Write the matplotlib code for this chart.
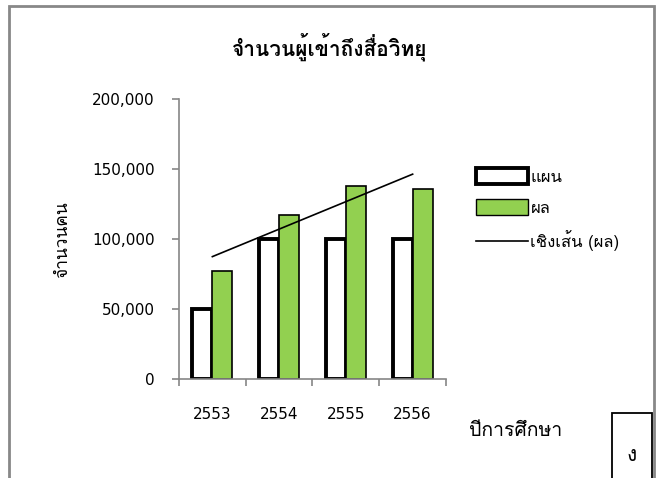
import numpy as np
import matplotlib
matplotlib.use("Agg")
import matplotlib.pyplot as plt
from matplotlib import font_manager
from matplotlib.ft2font import FT2Font
from matplotlib.patches import Rectangle
from matplotlib.lines import Line2D

years = ["2553", "2554", "2555", "2556"]
plan = [50000, 100000, 100000, 100000]
result = [77000, 117500, 138000, 135500]


# find a family that can draw Thai
def has_thai(path):
    try:
        return FT2Font(path).get_char_index(0x0E08) != 0
    except Exception:
        return False


thai = sorted({f.name for f in font_manager.fontManager.ttflist if has_thai(f.fname)})
pick = [n for n in ["Loma", "Garuda", "Umpush", "Tlwg Typist"] if n in thai] + thai
plt.rcParams["font.family"] = pick[:1] + ["DejaVu Sans"]
num = "DejaVu Sans"

fig = plt.figure(figsize=(6.59, 4.78), dpi=100)
ax = fig.add_axes([0.2716, 0.2061, 0.4052, 0.5868])

x = np.arange(len(years))
w = 0.3
ax.bar(x - w / 2, plan, w, color="white", edgecolor="black", linewidth=2.8)
ax.bar(x + w / 2, result, w, color="#92D050", edgecolor="black", linewidth=1.2)

# linear trend of the results
k, b = np.polyfit(x, result, 1)
ax.plot(x, k * x + b, color="black", linewidth=1.2)

ax.set_xlim(-0.5, 3.5)
ax.set_ylim(0, 200000)
ax.set_yticks(range(0, 200001, 50000))
ax.set_yticklabels([f"{v:,}" for v in range(0, 200001, 50000)], fontsize=11, family=num)
ax.set_xticks(x)
ax.set_xticklabels(years, fontsize=11, family=num)
ax.set_xticks(np.arange(-0.5, 4, 1), minor=True)
ax.tick_params(axis="x", which="major", length=0, pad=20)
ax.tick_params(axis="x", which="minor", length=5, color="#868686", width=1.2)
ax.tick_params(axis="y", length=5, color="#868686", width=1.2, pad=12.5)
for s in ["top", "right"]:
    ax.spines[s].set_visible(False)
for s in ["left", "bottom"]:
    ax.spines[s].set_color("#868686")
    ax.spines[s].set_linewidth(1.2)

fig.text(0.501, 0.903, "จำนวนผู้เข้าถึงสื่อวิทยุ", ha="center", va="center",
         fontsize=15, fontweight="bold")
fig.text(0.096, 0.498, "จำนวนคน", ha="center", va="center", rotation=90, fontsize=12.5)
fig.text(0.783, 0.098, "ปีการศึกษา", ha="center", va="center", fontsize=14)

handles = [
    Rectangle((0, 0), 1, 1, facecolor="white", edgecolor="black", linewidth=2.8),
    Rectangle((0, 0), 1, 1, facecolor="#92D050", edgecolor="black", linewidth=1.0),
    Line2D([], [], color="black", linewidth=1.2),
]
fig.legend(handles, ["แผน", "ผล", "เชิงเส้น (ผล)"], loc="center left",
           bbox_to_anchor=(0.70, 0.561), frameon=False, fontsize=12,
           handlelength=3.1, handleheight=1.1, handletextpad=0.15, labelspacing=0.8)

# outer frame and the small page box
fig.patches.append(Rectangle((0.0137, -0.1), 0.979, 1.0875, transform=fig.transFigure,
                             fill=False, edgecolor="#888888", linewidth=2))
fig.patches.append(Rectangle((0.9287, -0.1), 0.0607, 0.236, transform=fig.transFigure,
                             fill=False, edgecolor="black", linewidth=1.3))
fig.text(0.959, 0.048, "ง", ha="center", va="center", fontsize=15)

fig.savefig("out.png", dpi=100)
